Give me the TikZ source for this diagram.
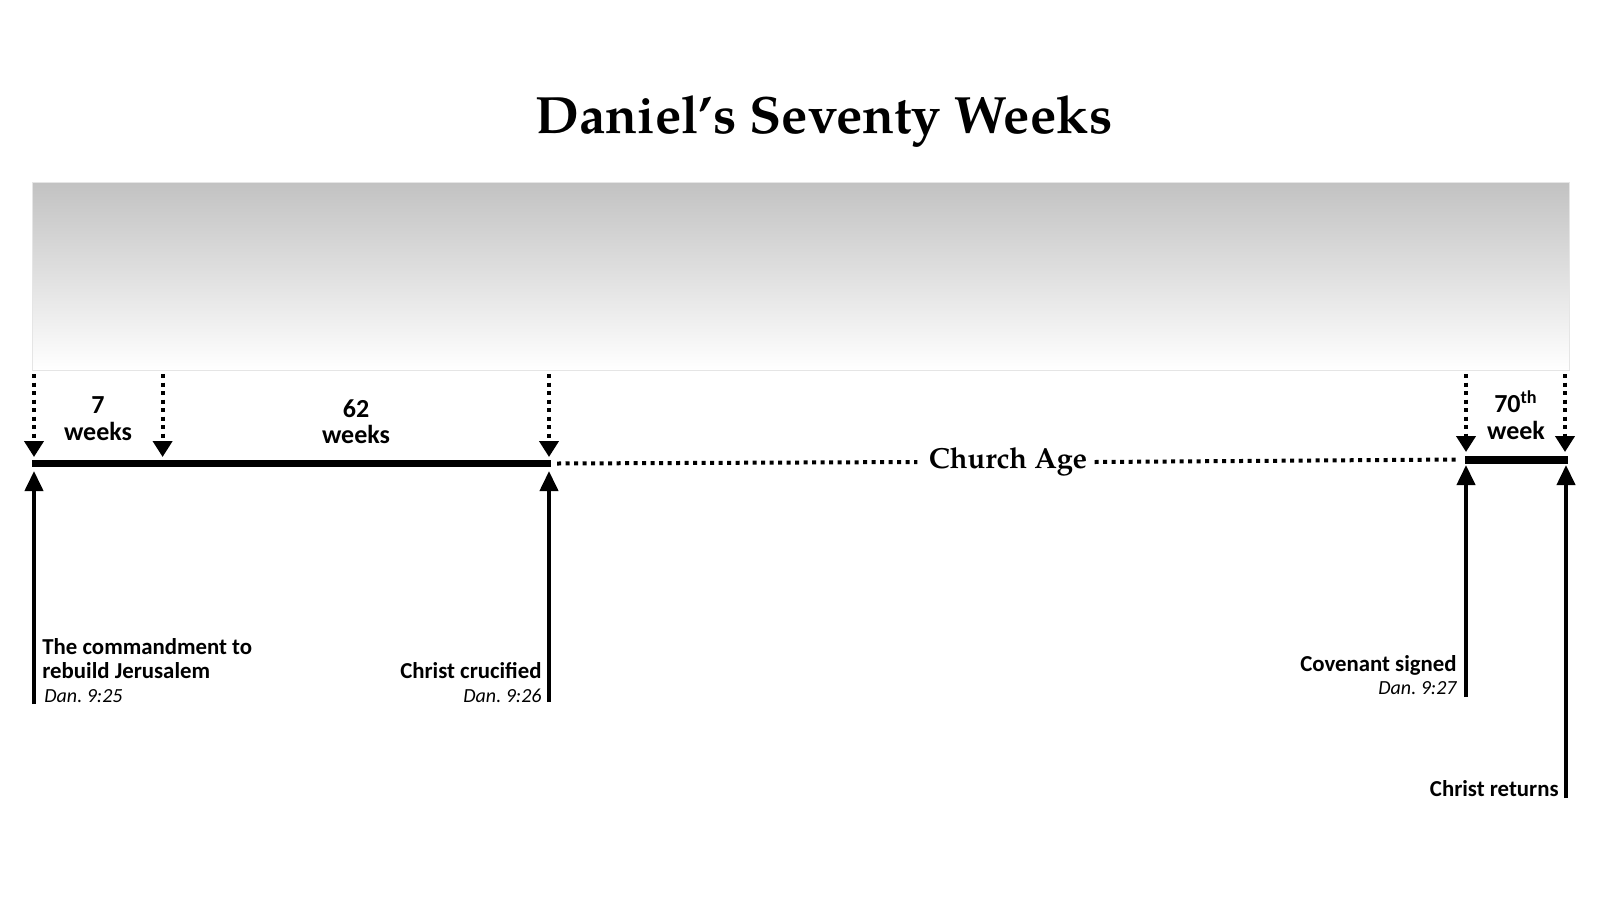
\documentclass[tikz,border=0pt]{standalone}
\usepackage{fontspec}
\setsansfont{Carlito}
\newfontfamily\palfont{texgyrepagella}[Extension=.otf, UprightFont=*-regular, BoldFont=*-bold, ItalicFont=*-italic, BoldItalicFont=*-bolditalic]
\usetikzlibrary{arrows.meta}
\frenchspacing
\begin{document}
\begin{tikzpicture}[x=0.5pt,y=-0.5pt,
  lbl/.style={inner sep=0pt, font=\sffamily\bfseries\fontsize{11.4}{12}\selectfont},
  refl/.style={inner sep=0pt, font=\sffamily\itshape\fontsize{10}{12}\selectfont},
  wk/.style={inner sep=0pt, anchor=base, font=\sffamily\bfseries\fontsize{13}{14}\selectfont},
  dotarrow/.style={line width=2pt, dash pattern=on 2pt off 2.25pt, -{Triangle[width=9.5pt,length=8pt]}},
  uparrow/.style={line width=2pt, -{Triangle[width=9pt,length=10pt]}},
  barline/.style={line width=3.5pt},
  churchline/.style={line width=2pt, dash pattern=on 2pt off 2.25pt}]
\useasboundingbox (0,0) rectangle (1600,900);
% title
\node[anchor=base, inner sep=0pt, font=\palfont\bfseries\fontsize{26.25}{30}\selectfont] (title) at (824,133) {Daniel’s Seventy Weeks};
% gray band
\shade[top color=black!24, bottom color=white, draw=black!10, line width=0.5pt] (32.7,182) rectangle (1569,370);
% coordinates
\coordinate (barL) at (32,463.5);
\coordinate (barM) at (551,463.5);
\coordinate (barR1) at (1465,459.5);
\coordinate (barR2) at (1568,459.5);
\coordinate (d1t) at (34,374);   \coordinate (d1b) at (34,457);
\coordinate (d2t) at (162.6,374); \coordinate (d2b) at (162.6,457);
\coordinate (d3t) at (549,374);  \coordinate (d3b) at (549,457);
\coordinate (d4t) at (1466,374); \coordinate (d4b) at (1466,452);
\coordinate (d5t) at (1565,374); \coordinate (d5b) at (1565,452);
\coordinate (u1b) at (34,704);   \coordinate (u1t) at (34,471);
\coordinate (u2b) at (549,702);  \coordinate (u2t) at (549,471);
\coordinate (u3b) at (1466,697); \coordinate (u3t) at (1466,465);
\coordinate (u4b) at (1566,798); \coordinate (u4t) at (1566,465);
% bars
\draw[barline] (barL) -- (barM);
\draw[line width=4pt] (barR1) -- (barR2);
% Church Age
\node[inner ysep=0pt, inner xsep=3.5pt, font=\palfont\bfseries\fontsize{14.5}{16}\selectfont] (ca) at (1008,462) {Church Age};
\draw[churchline] ([xshift=3pt]barM) -- ([xshift=-2pt]ca.west);
\draw[churchline] (ca.east) -- ([xshift=-3pt]barR1);
% dotted down arrows
\draw[dotarrow] (d1t) -- (d1b);
\draw[dotarrow] (d2t) -- (d2b);
\draw[dotarrow] (d3t) -- (d3b);
\draw[dotarrow] (d4t) -- (d4b);
\draw[dotarrow] (d5t) -- (d5b);
% up arrows
\draw[uparrow] (u1b) -- (u1t);
\draw[uparrow] (u2b) -- (u2t);
\draw[uparrow] (u3b) -- (u3t);
\draw[uparrow] (u4b) -- (u4t);
% week labels
\node[wk] (w7a) at (98,413) {7};
\node[wk] (w7b) at (98,440) {weeks};
\node[wk] (w62a) at (356,417) {62};
\node[wk] (w62b) at (356,443) {weeks};
\node[wk] (w70a) at (1516,412) {70\textsuperscript{th}};
\node[wk] (w70b) at (1516,439) {week};
% event labels
\node[lbl, anchor=base west] (e1a) at (42,654) {The commandment to};
\node[lbl, anchor=base west] (e1b) at (42,678) {rebuild Jerusalem};
\node[refl, anchor=base west] (e1c) at (44,702) {Dan. 9:25};
\node[lbl, anchor=base east] (e2a) at (542,678) {Christ crucified};
\node[refl, anchor=base east] (e2b) at (542,702) {Dan. 9:26};
\node[lbl, anchor=base east] (e3a) at (1457,671) {Covenant signed};
\node[refl, anchor=base east] (e3b) at (1457,694) {Dan. 9:27};
\node[lbl, anchor=base east] (e4a) at (1559,796) {Christ returns};
\end{tikzpicture}
\end{document}
